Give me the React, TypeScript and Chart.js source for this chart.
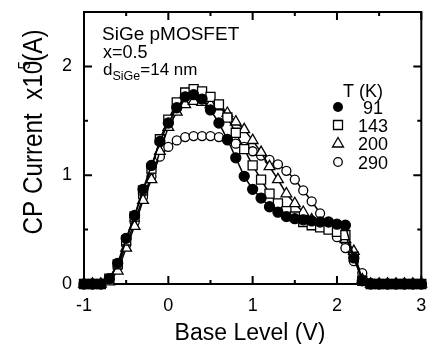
import React, { useEffect, useRef } from 'react';
import { Chart, registerables } from 'chart.js';

Chart.register(...registerables);

const baseLevel = [
  -1.0, -0.9, -0.8, -0.7, -0.6, -0.5, -0.4, -0.3, -0.2, -0.1,
  0.0, 0.1, 0.2, 0.3, 0.4, 0.5, 0.6, 0.7, 0.8, 0.9,
  1.0, 1.1, 1.2, 1.3, 1.4, 1.5, 1.6, 1.7, 1.8, 1.9,
  2.0, 2.1, 2.2, 2.3, 2.4, 2.5, 2.6, 2.7, 2.8, 2.9, 3.0,
];

const cp91 = [
  0, 0, 0, 0.05, 0.19, 0.42, 0.63, 0.87, 1.09, 1.31,
  1.48, 1.62, 1.72, 1.74, 1.70, 1.60, 1.48, 1.33, 1.16, 0.99,
  0.87, 0.79, 0.71, 0.66, 0.62, 0.60, 0.59, 0.58, 0.57, 0.57,
  0.55, 0.54, 0.24, 0.03, 0, 0, 0, 0, 0, 0, 0,
];
const cp143 = [
  0, 0, 0, 0.05, 0.18, 0.40, 0.62, 0.86, 1.06, 1.33,
  1.51, 1.67, 1.76, 1.79, 1.77, 1.72, 1.65, 1.53, 1.39, 1.24,
  1.09, 0.96, 0.83, 0.74, 0.67, 0.62, 0.57, 0.54, 0.52, 0.50,
  0.48, 0.45, 0.25, 0.03, 0, 0, 0, 0, 0, 0, 0,
];
const cp200 = [
  0, 0, 0, 0.02, 0.12, 0.33, 0.53, 0.77, 0.96, 1.22,
  1.44, 1.58, 1.65, 1.68, 1.67, 1.65, 1.63, 1.57, 1.49, 1.42,
  1.32, 1.21, 1.08, 0.96, 0.83, 0.74, 0.66, 0.59, 0.55, 0.53,
  0.50, 0.41, 0.30, 0.04, 0, 0, 0, 0, 0, 0, 0,
];
const cp290 = [
  0, 0, 0, 0.04, 0.16, 0.36, 0.57, 0.80, 0.99, 1.17,
  1.26, 1.32, 1.35, 1.36, 1.36, 1.36, 1.35, 1.32, 1.29, 1.26,
  1.22, 1.18, 1.14, 1.10, 1.04, 0.96, 0.86, 0.76, 0.65, 0.54,
  0.43, 0.33, 0.21, 0.10, 0.01, 0, 0, 0, 0, 0, 0,
];

const tempLabels = ['91', '143', '200', '290'];
const xMajorTicks = [-1, 0, 1, 2, 3];
const xMinorTicks = [-0.5, 0.5, 1.5, 2.5];
const yMajorTicks = [0, 1, 2];
const yMinorTicks = [0.5, 1.5];

const FONT = '"Liberation Sans", Arial, Helvetica, sans-serif';

function drawMarker(ctx: CanvasRenderingContext2D, kind: string, x: number, y: number) {
  ctx.save();
  ctx.lineWidth = 1.3;
  ctx.strokeStyle = '#000';
  ctx.beginPath();
  if (kind === 'filled') {
    ctx.arc(x, y, 5, 0, Math.PI * 2);
    ctx.fillStyle = '#000';
    ctx.fill();
  } else if (kind === 'square') {
    ctx.rect(x - 4.5, y - 4.5, 9, 9);
    ctx.fillStyle = '#fff';
    ctx.fill();
    ctx.stroke();
  } else if (kind === 'triangle') {
    ctx.moveTo(x, y - 5.5);
    ctx.lineTo(x + 5.5, y + 4);
    ctx.lineTo(x - 5.5, y + 4);
    ctx.closePath();
    ctx.fillStyle = '#fff';
    ctx.fill();
    ctx.stroke();
  } else {
    ctx.arc(x, y, 4.3, 0, Math.PI * 2);
    ctx.fillStyle = '#fff';
    ctx.fill();
    ctx.stroke();
  }
  ctx.restore();
}

const framePlugin = {
  id: 'frame',
  beforeDatasetsDraw(chart: any) {
    const { ctx, chartArea: a, scales } = chart;
    const xs = scales.x;
    const ys = scales.y;
    ctx.save();
    ctx.strokeStyle = '#000';
    ctx.lineWidth = 2;
    ctx.strokeRect(a.left, a.top, a.right - a.left, a.bottom - a.top);
    ctx.beginPath();
    const xt = (v: number, len: number) => {
      const px = xs.getPixelForValue(v);
      ctx.moveTo(px, a.bottom);
      ctx.lineTo(px, a.bottom - len);
      ctx.moveTo(px, a.top);
      ctx.lineTo(px, a.top + len);
    };
    const yt = (v: number, len: number) => {
      const py = ys.getPixelForValue(v);
      ctx.moveTo(a.left, py);
      ctx.lineTo(a.left + len, py);
      ctx.moveTo(a.right, py);
      ctx.lineTo(a.right - len, py);
    };
    xMajorTicks.forEach((v) => xt(v, 8));
    xMinorTicks.forEach((v) => xt(v, 4));
    yMajorTicks.forEach((v) => yt(v, 8));
    yMinorTicks.forEach((v) => yt(v, 4));
    ctx.stroke();
    ctx.restore();
  },
  afterDraw(chart: any) {
    const { ctx, chartArea: a } = chart;
    ctx.save();
    ctx.fillStyle = '#000';
    ctx.textBaseline = 'alphabetic';

    // x title
    ctx.font = `23px ${FONT}`;
    ctx.textAlign = 'center';
    ctx.fillText('Base Level (V)', 250, 340);

    // y title (rotated, compressed lengthwise) with superscript
    const p1 = 'CP Current  x1';
    const p2 = '0';
    const sup = '5';
    const p3 = '(A)';
    ctx.font = `27px ${FONT}`;
    const w1 = ctx.measureText(p1).width;
    const w2 = ctx.measureText(p2).width;
    const w3 = ctx.measureText(p3).width;
    ctx.font = `17px ${FONT}`;
    const ws = ctx.measureText(sup).width;
    const supStart = w1 + w2 * 0.35;
    const total = supStart + ws + w3 - 1;
    const targetLen = 205;
    ctx.save();
    ctx.translate(42, 132);
    ctx.rotate(-Math.PI / 2);
    ctx.scale(targetLen / total, 1);
    ctx.textAlign = 'left';
    const x0 = -total / 2;
    ctx.font = `27px ${FONT}`;
    ctx.fillText(p1, x0, 0);
    ctx.fillText(p2, x0 + w1, 0);
    ctx.font = `17px ${FONT}`;
    ctx.fillText(sup, x0 + supStart, -12);
    ctx.font = `27px ${FONT}`;
    ctx.fillText(p3, x0 + supStart + ws - 1, 0);
    ctx.restore();

    // annotation
    ctx.textAlign = 'left';
    ctx.font = `19px ${FONT}`;
    ctx.fillText('SiGe pMOSFET', 102, 40);
    ctx.font = `18px ${FONT}`;
    ctx.fillText('x=0.5', 103, 58);
    ctx.font = `17px ${FONT}`;
    ctx.fillText('d', 103, 75);
    let dx = 103 + ctx.measureText('d').width;
    ctx.font = `12.5px ${FONT}`;
    ctx.fillText('SiGe', dx, 80);
    dx += ctx.measureText('SiGe').width;
    ctx.font = `17px ${FONT}`;
    ctx.fillText('=14 nm', dx, 75);

    // legend
    ctx.font = `18px ${FONT}`;
    ctx.textAlign = 'left';
    ctx.fillText('T (K)', 343, 97);
    const kinds = ['filled', 'square', 'triangle', 'open'];
    const rowY = [107, 125, 143, 162];
    ctx.textAlign = 'center';
    tempLabels.forEach((t, i) => {
      drawMarker(ctx, kinds[i], 338, rowY[i]);
      ctx.fillStyle = '#000';
      ctx.fillText(t, 373, rowY[i] + 6.5);
    });
    ctx.restore();
  },
};

export default function App() {
  const ref = useRef<HTMLCanvasElement | null>(null);

  useEffect(() => {
    if (!ref.current) return;
    const mk = (data: number[]) => baseLevel.map((x, i) => ({ x, y: data[i] }));
    const common = {
      borderColor: '#000',
      borderWidth: 1.5,
      pointBorderColor: '#000',
      pointBorderWidth: 1.3,
      showLine: true,
      clip: false as any,
      tension: 0,
    };
    const chart = new Chart(ref.current, {
      type: 'scatter',
      data: {
        datasets: [
          { ...common, label: '91', data: mk(cp91), pointStyle: 'circle', pointRadius: 5, pointBackgroundColor: '#000' },
          { ...common, label: '143', data: mk(cp143), pointStyle: 'rect', pointRadius: 6.4, pointBackgroundColor: '#fff' },
          { ...common, label: '200', data: mk(cp200), pointStyle: 'triangle', pointRadius: 6.2, pointBackgroundColor: '#fff' },
          { ...common, label: '290', data: mk(cp290), pointStyle: 'circle', pointRadius: 4.5, pointBackgroundColor: '#fff' },
        ],
      },
      options: {
        animation: false,
        responsive: true,
        maintainAspectRatio: false,
        layout: { padding: { top: 12, right: 3, left: 0, bottom: 0 } },
        plugins: { legend: { display: false }, tooltip: { enabled: false } },
        scales: {
          x: {
            type: 'linear',
            min: -1,
            max: 3,
            grid: { display: false, drawTicks: false },
            border: { display: false },
            afterBuildTicks: (s: any) => { s.ticks = xMajorTicks.map((v) => ({ value: v })); },
            afterFit: (s: any) => { s.height = 60; s.paddingLeft = 0; s.paddingRight = 0; },
            ticks: {
              color: '#000',
              font: { size: 18, family: FONT },
              padding: 11,
              maxRotation: 0,
              callback: (v: any) => String(v),
            },
          },
          y: {
            type: 'linear',
            min: 0,
            max: 2.5,
            grid: { display: false, drawTicks: false },
            border: { display: false },
            afterBuildTicks: (s: any) => { s.ticks = yMajorTicks.map((v) => ({ value: v })); },
            afterFit: (s: any) => { s.width = 84; s.paddingTop = 0; s.paddingBottom = 0; },
            ticks: {
              color: '#000',
              font: { size: 18, family: FONT },
              padding: 12,
              callback: (v: any) => String(v),
            },
          },
        },
      },
      plugins: [framePlugin],
    });
    return () => chart.destroy();
  }, []);

  return (
    <div style={{ position: 'absolute', left: 0, top: 0, width: 429, height: 344, background: '#fff' }}>
      <canvas ref={ref} />
    </div>
  );
}
